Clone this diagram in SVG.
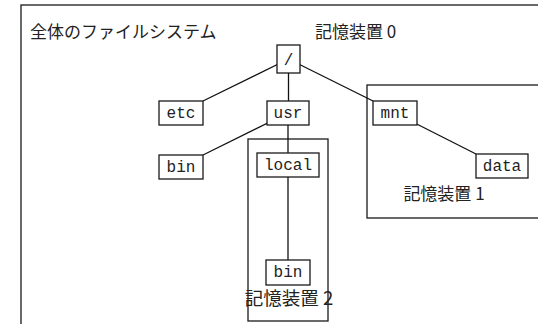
<svg xmlns="http://www.w3.org/2000/svg" width="538" height="324" viewBox="0 0 538 324">
<style>
.frame{fill:none;stroke:#1a1a1a;stroke-width:1.3}
.box{fill:#fff;stroke:#1a1a1a;stroke-width:1.3}
.conn{stroke:#111;stroke-width:1.3;fill:none}
.lbl{font-family:"Noto Sans CJK JP","Noto Sans",sans-serif;font-size:17px;fill:#222}
.mono{font-family:"Liberation Mono","DejaVu Sans Mono",monospace;font-size:16px;fill:#222;text-anchor:middle}
</style>
<rect width="538" height="324" fill="#fff"/>
<g id="frames">
<rect class="frame" x="21" y="5" width="600" height="400"/>
<rect class="frame" x="367" y="85" width="200" height="133"/>
<rect class="frame" x="248" y="139" width="80" height="182"/>
</g>
<g id="connectors">
<line class="conn" x1="288.5" y1="59" x2="203" y2="101"/>
<line class="conn" x1="288.5" y1="59" x2="288.5" y2="113"/>
<line class="conn" x1="288.5" y1="59" x2="373" y2="101"/>
<line class="conn" x1="288" y1="113" x2="203" y2="155"/>
<line class="conn" x1="288" y1="113" x2="288" y2="272"/>
<line class="conn" x1="395" y1="113" x2="476" y2="154"/>
</g>
<g id="root"><rect class="box" x="277" y="45" width="23" height="28"/><text class="mono" x="288.5" y="65">/</text></g>
<g id="etc"><rect class="box" x="159" y="101" width="44" height="24"/><text class="mono" x="181" y="118">etc</text></g>
<g id="usr"><rect class="box" x="267" y="101" width="42" height="24"/><text class="mono" x="288" y="118">usr</text></g>
<g id="mnt"><rect class="box" x="373" y="101" width="44" height="24"/><text class="mono" x="395" y="118">mnt</text></g>
<g id="bin"><rect class="box" x="159" y="155" width="44" height="24"/><text class="mono" x="181" y="172">bin</text></g>
<g id="local"><rect class="box" x="257" y="153" width="62" height="24"/><text class="mono" x="288" y="170">local</text></g>
<g id="data"><rect class="box" x="476" y="154" width="52" height="24"/><text class="mono" x="502" y="171">data</text></g>
<g id="bin2"><rect class="box" x="266" y="260" width="44" height="25"/><text class="mono" x="288" y="277">bin</text></g>
<g id="labels">
<text class="lbl" x="30" y="38">全体のファイルシステム</text>
<text class="lbl" x="315" y="38">記憶装置 0</text>
<text class="lbl" x="444" y="200" text-anchor="middle">記憶装置 1</text>
<text class="lbl" x="289" y="305" text-anchor="middle" style="font-size:18.5px">記憶装置 2</text>
</g>
</svg>
